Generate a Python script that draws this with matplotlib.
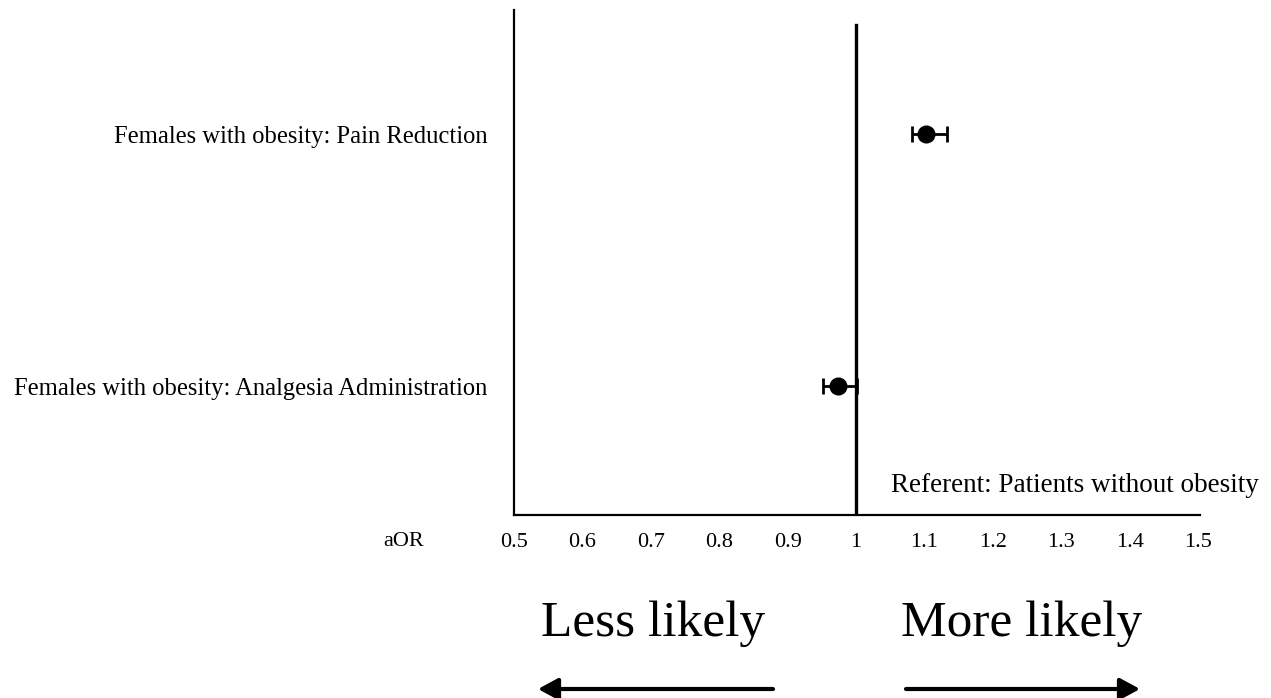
import matplotlib
matplotlib.use("Agg")
import matplotlib.pyplot as plt
from matplotlib.patches import FancyArrowPatch

categories = ["Females with obesity: Analgesia Administration",
              "Females with obesity: Pain Reduction"]
aor = [0.973, 1.102]
ci_low = [0.952, 1.082]
ci_high = [1.001, 1.133]
xticks = [0.5, 0.6, 0.7, 0.8, 0.9, 1.0, 1.1, 1.2, 1.3, 1.4, 1.5]
xtick_labels = ["0.5", "0.6", "0.7", "0.8", "0.9", "1", "1.1", "1.2", "1.3", "1.4", "1.5"]

plt.rcParams['font.family'] = ['Liberation Serif', 'DejaVu Serif']

W, H = 1271, 698
fig = plt.figure(figsize=(W/100, H/100), dpi=100)
ax = fig.add_axes([514/W, 1-515/H, (1200-514)/W, (515-10)/H])

ypos = [1, 2]
xerr = [[a - l for a, l in zip(aor, ci_low)], [h - a for a, h in zip(aor, ci_high)]]
ax.errorbar(aor, ypos, xerr=xerr, fmt='o', color='black', ecolor='black',
            markersize=12, elinewidth=2, capsize=6, capthick=2, zorder=3)

ax.axvline(1.0, ymin=0, ymax=(515-25)/505, color='black', lw=2.4, zorder=2)

ax.set_xlim(0.5, 1.503)
ax.set_ylim(0.49, 2.494)
ax.set_xticks(xticks)
ax.set_xticklabels(xtick_labels, fontsize=16)
ax.set_yticks(ypos)
ax.set_yticklabels(categories, fontsize=17.7)
ax.tick_params(axis='both', length=0)
ax.tick_params(axis='x', pad=13)
ax.tick_params(axis='y', pad=19)
for s in ['top', 'right']:
    ax.spines[s].set_visible(False)
for s in ['left', 'bottom']:
    ax.spines[s].set_linewidth(1.6)

fig.text(404/W, 1-541/H, "aOR", fontsize=16, ha='center', va='center')
fig.text(1259/W, 1-486/H, "Referent: Patients without obesity", fontsize=19.5, ha='right', va='center')

fig.text(653/W, 1-624/H, "Less likely", fontsize=37, ha='center', va='center')
fig.text(1022/W, 1-624/H, "More likely", fontsize=37, ha='center', va='center')

ya = 1 - 689/H
for x0, x1 in [(773, 538), (906, 1140)]:
    arr = FancyArrowPatch((x0/W, ya), (x1/W, ya), transform=fig.transFigure,
                          arrowstyle='-|>,head_length=12,head_width=6.5',
                          mutation_scale=1, lw=3, color='black',
                          shrinkA=0, shrinkB=0)
    fig.add_artist(arr)

fig.savefig("out.png", dpi=100)
